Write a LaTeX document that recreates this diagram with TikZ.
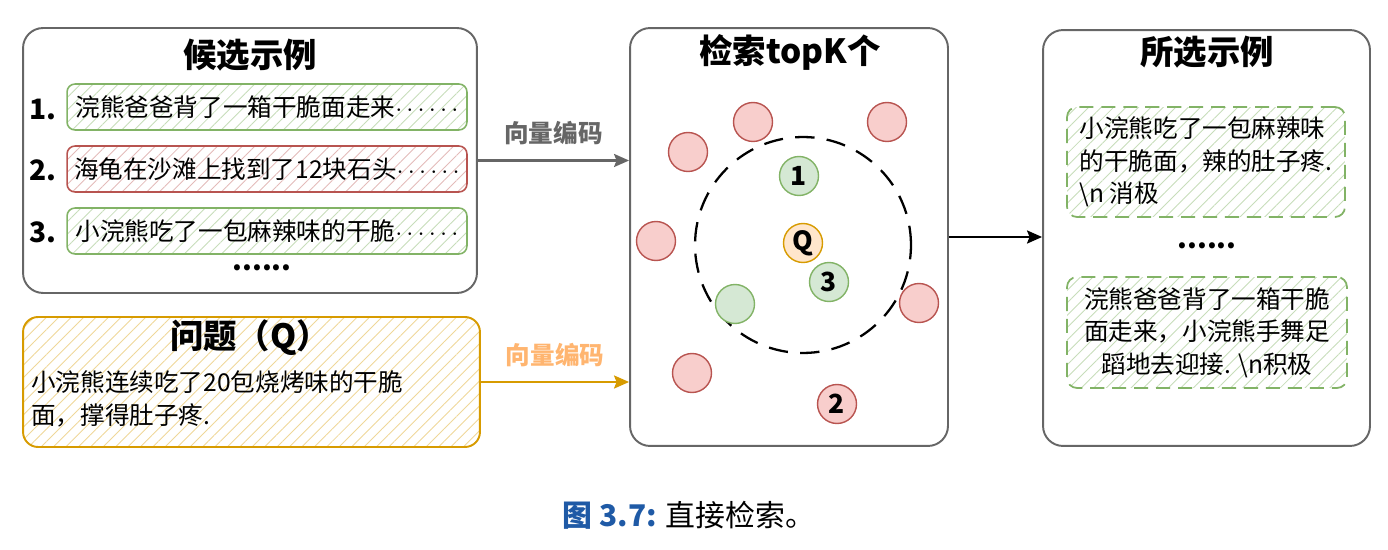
\documentclass[tikz,border=0pt]{standalone}
\usepackage{fontspec}
\setmainfont{Noto Sans CJK SC}
\usepackage{xcolor}
\usetikzlibrary{arrows.meta, positioning, patterns.meta}
\definecolor{panelgray}{HTML}{666666}
\definecolor{goodgreen}{HTML}{82B366}
\definecolor{goodfill}{HTML}{D5E8D4}
\definecolor{badred}{HTML}{B85450}
\definecolor{badfill}{HTML}{F8CECC}
\definecolor{qorange}{HTML}{D79B00}
\definecolor{qfill}{HTML}{FFE6CC}
\definecolor{enclightorange}{HTML}{FFB570}
\definecolor{capblue}{HTML}{1F5AA6}

\begin{document}
\begin{tikzpicture}[
  x=0.02cm, y=-0.02cm,
  every node/.style={font=\fontsize{14}{18.5}\selectfont},
  panel/.style={draw=panelgray, line width=1.1pt, rounded corners=0.4cm},
  title/.style={font=\fontsize{19}{22}\selectfont\bfseries},
  hatch/.style={pattern={Lines[angle=45, distance=5pt, line width=0.5pt]}, pattern color=#1},
  cand/.style={line width=0.9pt, rounded corners=0.16cm, minimum width=8cm, minimum height=0.92cm, inner sep=2pt},
  good/.style={cand, draw=goodgreen, hatch=goodgreen!45},
  bad/.style={cand, draw=badred, hatch=badred!40},
  picked/.style={draw=goodgreen, line width=1pt, dash pattern=on 8pt off 4.5pt, rounded corners=0.2cm, hatch=goodgreen!45, inner sep=2pt},
  num/.style={font=\fontsize{16}{18}\selectfont\bfseries},
  dot/.style={circle, line width=0.8pt, minimum size=0.78cm, inner sep=0pt, font=\fontsize{15}{16}\selectfont\bfseries},
  reddot/.style={dot, draw=badred, fill=badfill},
  greendot/.style={dot, draw=goodgreen, fill=goodfill},
  arrow/.style={-{Stealth[length=3mm, width=2.6mm, inset=0.5mm]}, line width=1.4pt},
  enclabel/.style={font=\fontsize{14}{16}\selectfont\bfseries, inner sep=1pt}
]
  \useasboundingbox (0,0) rectangle (1388,550);

  % Candidates
  \node[panel, minimum width=9.08cm, minimum height=5.3cm] (candbox) at (250,160.5) {};
  \node[title] (candtitle) at (250,55) {候选示例};
  \node[good] (c1) at (267,107) {浣熊爸爸背了一箱干脆面走来$\cdots\cdots$};
  \node[bad] (c2) at (267,169) {海龟在沙滩上找到了12块石头$\cdots\cdots$};
  \node[good] (c3) at (267,231) {小浣熊吃了一包麻辣味的干脆$\cdots\cdots$};
  \node[num] (n1) at (43,109) {1.};
  \node[num] (n2) at (43,170) {2.};
  \node[num] (n3) at (43,232) {3.};
  \node[num] (cmore) at (262,268) {......};

  % Question
  \node[draw=qorange, line width=1.1pt, rounded corners=0.3cm, hatch=qorange!40, minimum width=9.14cm, minimum height=2.6cm] (qbox) at (251.5,382) {};
  \node[title] (qtitle) at (250,338) {问题（Q）};
  \node[anchor=west, align=left, inner sep=0pt] (qtext) at (31,399) {小浣熊连续吃了20包烧烤味的干脆\\面，撑得肚子疼.};

  % Retrieval
  \node[panel, minimum width=6.36cm, minimum height=8.36cm] (search) at (789,237) {};
  \node[title] (searchtitle) at (790,52) {检索topK个};
  \node[circle, draw, line width=1.3pt, dash pattern=on 11pt off 7pt, minimum size=4.32cm] (topk) at (803,245) {};
  \node[reddot] (r1) at (753,122) {};
  \node[reddot] (r2) at (887,122) {};
  \node[reddot] (r3) at (688,152) {};
  \node[reddot] (r4) at (656,241) {};
  \node[reddot] (r5) at (919,303) {};
  \node[reddot] (r6) at (692,373) {};
  \node[reddot] (r7) at (837,404) {2};
  \node[greendot] (g1) at (799,176) {1};
  \node[greendot] (g2) at (829,282) {3};
  \node[greendot] (g3) at (735,304) {};
  \node[dot, draw=qorange, fill=qfill] (q) at (803,243) {Q};

  % Selected
  \node[panel, minimum width=6.54cm, minimum height=8.32cm] (selbox) at (1206.5,238) {};
  \node[title] (seltitle) at (1207,52) {所选示例};
  \node[picked, minimum width=5.56cm, minimum height=2.2cm, align=left] (s1) at (1206,162) {小浣熊吃了一包麻辣味\\的干脆面，辣的肚子疼.\\\textbackslash n 消极};
  \node[num] (smore) at (1207,246) {......};
  \node[picked, minimum width=5.6cm, minimum height=2.22cm, align=center] (s2) at (1207,332.5) {浣熊爸爸背了一箱干脆\\面走来，小浣熊手舞足\\蹈地去迎接. \textbackslash n积极};

  \draw[arrow, panelgray] (candbox.east) -- (candbox.east -| search.west) node[enclabel, midway, above=7pt, text=panelgray] (enc1) {向量编码};
  \draw[arrow, qorange] (qbox.east) -- (qbox.east -| search.west) node[enclabel, midway, above=7pt, text=enclightorange] (enc2) {向量编码};
  \draw[arrow, black] (search.east) -- (selbox.west |- search.east);

  \node[font=\fontsize{17}{20}\selectfont] (caption) at (689,515) {{\color{capblue}\bfseries 图 3.7:} 直接检索。};
\end{tikzpicture}
\end{document}
